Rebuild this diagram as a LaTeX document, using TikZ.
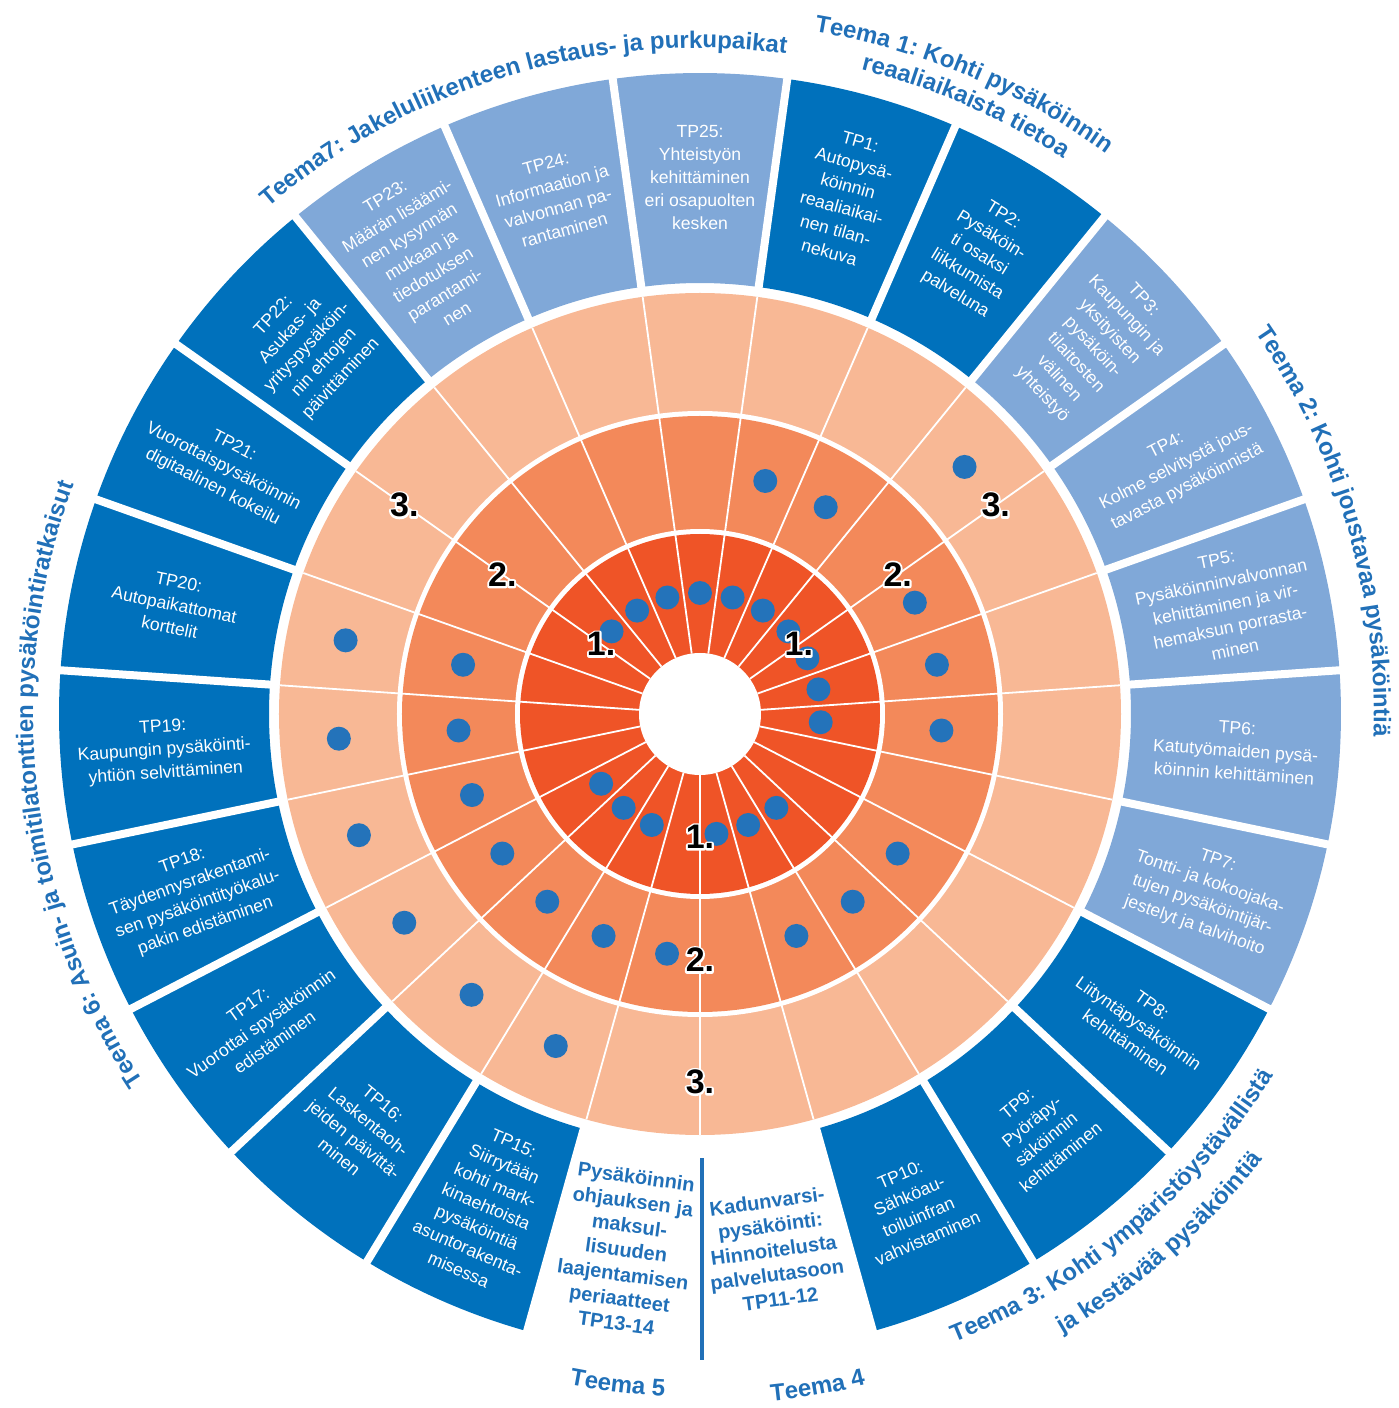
\documentclass[tikz,border=0pt]{standalone}
\usepackage{fontspec}
\setmainfont{Liberation Sans}
\usetikzlibrary{decorations.text}
\definecolor{ringone}{HTML}{EF5427}
\definecolor{ringtwo}{HTML}{F3895A}
\definecolor{ringthree}{HTML}{F8B895}
\definecolor{darkblue}{HTML}{0071BC}
\definecolor{lightblue}{HTML}{80A8D8}
\definecolor{dotblue}{HTML}{2473BA}
\definecolor{titleblue}{HTML}{2170B8}
\newcommand{\sw}{15.6521739}
\newcommand{\titlefont}{\fontsize{24}{24}\selectfont\bfseries}
\newcommand{\halo}{\special{pdf:literal direct 2 Tr 4 w 1 j 1 1 1 RG}}
\newcommand{\ringnum}[3]{%
  \node [numlabel, text=white] at (#2) {\halo #3};
  \node [numlabel] (#1) at (#2) {#3};}

\begin{document}
\begin{tikzpicture}[x=1pt, y=1pt,
  tptext/.style={text=white, align=center, font=\fontsize{17.6}{23}\selectfont},
  themebox/.style={text=titleblue, align=center, font=\fontsize{20}{24.6}\selectfont\bfseries},
  numlabel/.style={font=\fontsize{34}{34}\selectfont\bfseries, inner sep=0pt},
  bluedot/.style={circle, fill=dotblue, minimum size=24pt, inner sep=0pt},
  themetitle/.style={decorate, decoration={text along path, text align=center, text color=titleblue}}]
  \useasboundingbox (-700,-694) rectangle (699,714);

  % rings
  \fill [ringthree] (0,0) circle [radius=421];
  \fill [white] (0,0) circle [radius=303];
  \fill [ringtwo] (0,0) circle [radius=298];
  \fill [white] (0,0) circle [radius=185];
  \fill [ringone] (0,0) circle [radius=180];
  \foreach \i in {0,...,22}
    \draw [white, line width=1.8pt] ({90-(\i+0.5)*\sw}:61) -- ({90-(\i+0.5)*\sw}:421);
  \fill [white] (0,0) circle [radius=61];

  % action boxes
  \foreach \i/\c in {0/lightblue, 1/darkblue, 2/darkblue, 3/lightblue, 4/lightblue, 5/lightblue,
      6/lightblue, 7/lightblue, 8/darkblue, 9/darkblue, 10/darkblue, 13/darkblue, 14/darkblue,
      15/darkblue, 16/darkblue, 17/darkblue, 18/darkblue, 19/darkblue, 20/darkblue,
      21/lightblue, 22/lightblue}
    \fill [\c] ({90-(\i-0.5)*\sw}:431) arc [start angle={90-(\i-0.5)*\sw}, end angle={90-(\i+0.5)*\sw}, radius=431]
      -- ({90-(\i+0.5)*\sw}:641) arc [start angle={90-(\i+0.5)*\sw}, end angle={90-(\i-0.5)*\sw}, radius=641] -- cycle;
  \foreach \i in {0,...,22}
    \draw [white, line width=8pt] ({90-(\i+0.5)*\sw}:425) -- ({90-(\i+0.5)*\sw}:650);

  % dots
  \foreach \i in {20,21,22,0,1,2,3,4,5,6,9,10,11,13,14,15}
    \node [bluedot] (a\i) at ({90-\i*\sw}:121) {};
  \foreach \i in {1,2,4,5,6,8,9,10,12,13,14,15,16,17,18}
    \node [bluedot] (b\i) at ({90-\i*\sw}:242) {};
  \foreach \i in {3,13,14,15,16,17,18}
    \node [bluedot] (c\i) at ({90-\i*\sw}:362) {};

  % ring numbers
  \ringnum{onel}{144.78:121}{1.}
  \ringnum{oner}{35.22:121}{1.}
  \ringnum{oneb}{-90:123}{1.}
  \ringnum{twol}{144.78:242}{2.}
  \ringnum{twor}{35.22:242}{2.}
  \ringnum{twob}{-90:246}{2.}
  \ringnum{threel}{144.78:362}{3.}
  \ringnum{threer}{35.22:362}{3.}
  \ringnum{threeb}{-90:368}{3.}

  % action texts
  \node [tptext] (tp25) at (90:537) {TP25:\\Yhteistyön\\kehittäminen\\eri osapuolten\\kesken};
  \node [tptext, rotate={-1*\sw}] (tp1) at ({90-1*\sw}:537) {TP1:\\Autopysä-\\köinnin\\reaaliaikai-\\nen tilan-\\nekuva};
  \node [tptext, rotate={-2*\sw}] (tp2) at ({90-2*\sw}:537) {TP2:\\Pysäköin-\\ti osaksi\\liikkumista\\palveluna};
  \node [tptext, rotate={-3*\sw}] (tp3) at ({90-3*\sw}:537) {TP3:\\Kaupungin ja\\yksityisten\\pysäköin-\\tilaitosten\\välinen\\yhteistyö};
  \node [tptext, rotate={90-4*\sw}] (tp4) at ({90-4*\sw}:537) {TP4:\\Kolme selvitystä jous-\\tavasta pysäköinnistä};
  \node [tptext, rotate={90-5*\sw}] (tp5) at ({90-5*\sw}:537) {TP5:\\Pysäköinninvalvonnan\\kehittäminen ja vir-\\hemaksun porrasta-\\minen};
  \node [tptext, rotate={90-6*\sw}] (tp6) at ({90-6*\sw}:537) {TP6:\\Katutyömaiden pysä-\\köinnin kehittäminen};
  \node [tptext, rotate={90-7*\sw}] (tp7) at ({90-7*\sw}:537) {TP7:\\Tontti- ja kokoojaka-\\tujen pysäköintijär-\\jestelyt ja talvihoito};
  \node [tptext, rotate={90-8*\sw}] (tp8) at ({90-8*\sw}:537) {TP8:\\Liityntäpysäköinnin\\kehittäminen};
  \node [tptext, rotate={180-9*\sw}] (tp9) at ({90-9*\sw}:537) {TP9:\\Pyöräpy-\\säköinnin\\kehittäminen};
  \node [tptext, rotate={180-10*\sw}] (tp10) at ({90-10*\sw}:537) {TP10:\\Sähköau-\\toiluinfran\\vahvistaminen};
  \node [themebox, rotate={180-11*\sw}] (tp11) at ({90-11*\sw}:541) {Kadunvarsi-\\pysäköinti:\\Hinnoitelusta\\palvelutasoon\\TP11-12};
  \node [themebox, rotate={180-12*\sw}] (tp13) at ({90-12*\sw}:541) {Pysäköinnin\\ohjauksen ja\\maksul-\\lisuuden\\laajentamisen\\periaatteet\\TP13-14};
  \node [tptext, rotate={180-13*\sw}] (tp15) at ({90-13*\sw}:537) {TP15:\\Siirrytään\\kohti mark-\\kinaehtoista\\pysäköintiä\\asuntorakenta-\\misessa};
  \node [tptext, rotate={180-14*\sw}] (tp16) at ({90-14*\sw}:537) {TP16:\\Laskentaoh-\\jeiden päivittä-\\minen};
  \node [tptext, rotate={270-15*\sw}] (tp17) at ({90-15*\sw}:537) {TP17:\\Vuorottai spysäköinnin\\edistäminen};
  \node [tptext, rotate={270-16*\sw}] (tp18) at ({90-16*\sw}:537) {TP18:\\Täydennysrakentami-\\sen pysäköintityökalu-\\pakin edistäminen};
  \node [tptext, rotate={270-17*\sw}] (tp19) at ({90-17*\sw}:537) {TP19:\\Kaupungin pysäköinti-\\yhtiön selvittäminen};
  \node [tptext, rotate={270-18*\sw}] (tp20) at ({90-18*\sw}:537) {TP20:\\Autopaikattomat\\korttelit};
  \node [tptext, rotate={270-19*\sw}] (tp21) at ({90-19*\sw}:537) {TP21:\\Vuorottaispysäköinnin\\digitaalinen kokeilu};
  \node [tptext, rotate={360-20*\sw}] (tp22) at ({90-20*\sw}:537) {TP22:\\Asukas- ja\\yrityspysäköin-\\nin ehtojen\\päivittäminen};
  \node [tptext, rotate={360-21*\sw}] (tp23) at ({90-21*\sw}:537) {TP23:\\Määrän lisäämi-\\nen kysynnän\\mukaan ja\\tiedotuksen\\parantami-\\nen};
  \node [tptext, rotate={360-22*\sw}] (tp24) at ({90-22*\sw}:537) {TP24:\\Informaation ja\\valvonnan pa-\\rantaminen};
  \draw [titleblue, line width=4.5pt] (2,-444) -- (2,-646);

  % theme titles
  \path [themetitle, decoration={text={|\titlefont|Teema 1: Kohti pysäköinnin}}]
    (112.3:692) arc [start angle=112.3, end angle=22.3, radius=692];
  \path [themetitle, decoration={text={|\titlefont|reaaliaikaista tietoa}}]
    (111.4:664) arc [start angle=111.4, end angle=21.4, radius=664];
  \path [themetitle, decoration={text={|\titlefont|Teema 2: Kohti joustavaa pysäköintiä}}]
    (66.3:674) arc [start angle=66.3, end angle=-33.7, radius=674];
  \path [themetitle, decoration={text={|\titlefont|Teema 3: Kohti ympäristöystävällistä}}]
    (-100.1:678) arc [start angle=-100.1, end angle=-0.1, radius=678];
  \path [themetitle, decoration={text={|\titlefont|ja kestävää pysäköintiä}}]
    (-99:718) arc [start angle=-99, end angle=1, radius=718];
  \path [themetitle, decoration={text={|\titlefont|Teema 4}}]
    (-110.1:691) arc [start angle=-110.1, end angle=-50.1, radius=691];
  \path [themetitle, decoration={text={|\titlefont|Teema 5}}]
    (-127:683) arc [start angle=-127, end angle=-67, radius=683];
  \path [themetitle, decoration={text={|\titlefont|Teema 6: Asuin- ja toimitilatonttien pysäköintiratkaisut}}]
    (241.65:667) arc [start angle=241.65, end angle=131.65, radius=667];
  \path [themetitle, decoration={text={|\titlefont|Teema7: Jakeluliikenteen lastaus- ja purkupaikat}}]
    (156.5:666) arc [start angle=156.5, end angle=56.5, radius=666];
\end{tikzpicture}
\end{document}
